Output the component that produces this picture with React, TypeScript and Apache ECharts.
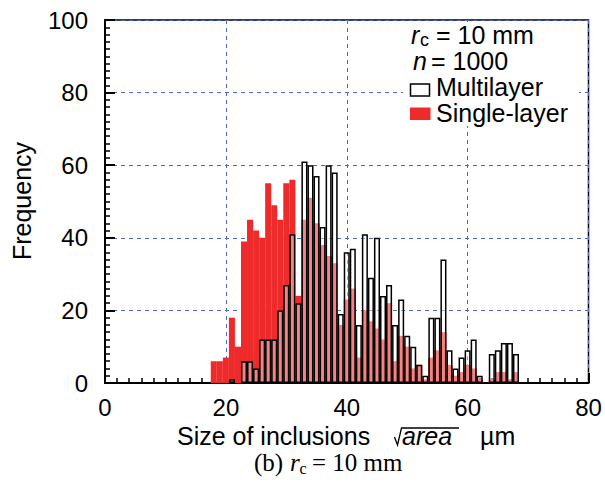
import React, { useEffect, useRef } from 'react';
import * as echarts from 'echarts';

// Bin centres (µm), bin width 1 µm
const sizeBins = [18, 19, 20, 21, 22, 23, 24, 25, 26, 27, 28, 29, 30, 31, 32, 33, 34, 35, 36, 37, 38, 39, 40, 41, 42, 43, 44, 45, 46, 47, 48, 49, 50, 51, 52, 53, 54, 55, 56, 57, 58, 59, 60, 61, 62, 63, 64, 65, 66, 67, 68];
const singleLayer = [6, 6, 7, 18, 10, 39, 45, 42, 40, 55, 49, 45, 55, 56, 24, 45, 51, 44, 38, 35, 33, 16, 23, 26, 7, 20, 17, 15, 12, 22, 6, 13, 10, 4, 5, 1, 7, 9, 14, 5, 2, 3, 5, 4, 1, 0, 1, 3, 3, 1, 3];
const multiLayer = [0, 0, 0, 1, 0, 6, 6, 4, 12, 12, 12, 20, 27, 41, 22, 61, 60, 57, 43, 60, 58, 19, 36, 37, 16, 41, 29, 40, 24, 27, 16, 23, 13, 10, 5, 2, 18, 18, 34, 9, 4, 7, 9, 12, 2, 0, 8, 9, 11, 11, 8];
const xTickValues = [0, 20, 40, 60, 80];
const yTickValues = [0, 20, 40, 60, 80, 100];

const RED = '#ee2a2a';
const GRID_BLUE = '#4d6bc4';
const SANS = '"Liberation Sans", Arial, Helvetica, sans-serif';
const SERIF = '"Liberation Serif", "Times New Roman", serif';

const GRID_LEFT = 105;
const GRID_TOP = 20;
const GRID_W = 483.5;
const GRID_H = 363;
const BAR_W = GRID_W / (xTickValues[xTickValues.length - 1] - xTickValues[0]);

export default function App() {
  const ref = useRef<HTMLDivElement>(null);

  useEffect(() => {
    if (!ref.current) return;
    const chart = echarts.init(ref.current, null, { renderer: 'svg' });

    const toPairs = (vals: number[]) =>
      sizeBins.map((b, i) => [b, vals[i]]).filter((p) => p[1] > 0);

    const makeAxis = (ticks: number[], margin: number) => ({
      type: 'value',
      min: ticks[0],
      max: ticks[ticks.length - 1],
      interval: ticks[1] - ticks[0],
      axisLine: { show: true, onZero: false, lineStyle: { color: '#000', width: 2 } },
      axisTick: { show: true, inside: true, length: 10, lineStyle: { color: '#000', width: 2 } },
      minorTick: { show: true, splitNumber: 10, length: 5, lineStyle: { color: '#000', width: 1.5 } },
      splitLine: { show: true, lineStyle: { color: GRID_BLUE, width: 1, type: [4, 4] } },
      axisLabel: { show: true, color: '#000', fontSize: 24, fontFamily: SANS, margin },
    });

    const txt = (text: string, x: number, y: number, opts: any = {}) => ({
      type: 'text', z: 51, x, y,
      style: { text, fontSize: 25, lineHeight: 20, fontFamily: SANS, fill: '#000', verticalAlign: 'middle', ...opts },
    });

    const yTitle: any = txt('Frequency', 22, 201, { align: 'center' });
    yTitle.rotation = Math.PI / 2;

    const option: any = {
      animation: false,
      grid: {
        left: GRID_LEFT,
        top: GRID_TOP,
        width: GRID_W,
        height: GRID_H,
        show: true,
        borderColor: '#000',
        borderWidth: 1.5,
        backgroundColor: 'rgba(0,0,0,0)',
      },
      xAxis: makeAxis(xTickValues, 12),
      yAxis: makeAxis(yTickValues, 17),
      series: [
        {
          name: 'Single-layer',
          type: 'bar',
          data: toPairs(singleLayer),
          barWidth: BAR_W,
          barGap: '-100%',
          itemStyle: { color: RED },
        },
        {
          name: 'Multilayer',
          type: 'bar',
          data: toPairs(multiLayer),
          barWidth: BAR_W,
          barGap: '-100%',
          itemStyle: { color: 'rgba(255,255,255,0.42)', borderColor: '#000', borderWidth: 1.5 },
        },
      ],
      graphic: [
        { type: 'rect', z: 50, shape: { x: 403, y: 22, width: 176, height: 104 }, style: { fill: '#fff' } },
        txt('r', 411, 35, { fontStyle: 'italic' }),
        txt('c', 420, 40, { fontSize: 18, lineHeight: 14 }),
        txt('= 10 mm', 436, 35),
        txt('n', 413, 60.5, { fontStyle: 'italic' }),
        txt('= 1000', 431, 60.5),
        { type: 'rect', z: 51, shape: { x: 410.5, y: 84, width: 19, height: 12 }, style: { fill: '#fff', stroke: '#000', lineWidth: 1.5 } },
        txt('Multilayer', 436, 87),
        { type: 'rect', z: 51, shape: { x: 410, y: 107.5, width: 20.5, height: 12.5 }, style: { fill: RED } },
        txt('Single-layer', 436, 113),
        yTitle,
        txt('Size of inclusions', 177, 435.5),
        { type: 'polyline', z: 51, shape: { points: [[394.5, 437], [397.5, 445], [401.5, 428], [459, 428]] }, style: { stroke: '#000', lineWidth: 1.3, fill: 'none' } },
        txt('area', 402, 435.5, { fontStyle: 'italic' }),
        txt('µm', 480, 435.5),
        txt('(b)', 254, 462, { fontFamily: SERIF }),
        txt('r', 290, 462, { fontFamily: SERIF, fontStyle: 'italic' }),
        txt('c', 299.5, 468.5, { fontFamily: SERIF, fontSize: 16, lineHeight: 12 }),
        txt('= 10 mm', 312, 462, { fontFamily: SERIF }),
      ],
    };

    chart.setOption(option);
    return () => chart.dispose();
  }, []);

  return (
    <div
      ref={ref}
      style={{ position: 'fixed', left: 0, top: 0, width: 605, height: 492, background: '#fff' }}
    />
  );
}
